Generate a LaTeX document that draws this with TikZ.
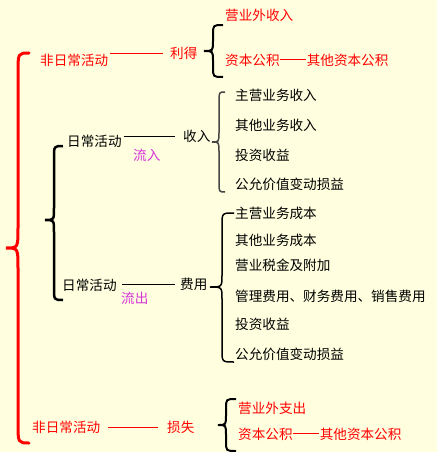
\documentclass[tikz,border=0pt]{standalone}
\usepackage{fontspec}
\setmainfont{Noto Sans CJK SC}
\definecolor{bg}{RGB}{255,255,224}
\definecolor{mag}{RGB}{214,51,214}
\definecolor{br2}{RGB}{70,70,70}
\newcommand{\bracep}[7]{% xe, yt, xv, xt, ym, yb, r
  (#1,#2) .. controls (#3,#2) .. (#3,#2+#7) -- (#3,#5-#7) .. controls (#3,#5) .. (#4,#5)
  .. controls (#3,#5) .. (#3,#5+#7) -- (#3,#6-#7) .. controls (#3,#6) .. (#1,#6)}
\newcommand{\dd}{\makebox[2em]{\rule[0.36em]{1.95em}{0.07em}}}
\begin{document}
\begin{tikzpicture}[x=1pt,y=-1pt,
  lbl/.style={anchor=west,inner sep=0pt,font=\fontsize{13.6}{16}\selectfont},
  redt/.style={lbl,text=red},
  magt/.style={lbl,text=mag},
  conn/.style={line width=0.9pt}]
\fill[bg] (0,0) rectangle (437,452);
\useasboundingbox (0,0) rectangle (437,452);
% braces
\draw[red,line width=3pt,line cap=round] \bracep{29}{53}{18}{6}{248}{443}{20};
\draw[black,line width=2pt] \bracep{223}{25}{213}{204}{51}{77}{10};
\draw[br2,line width=1.5pt] \bracep{225}{92}{219}{212}{142}{192}{10};
\draw[black,line width=2.5pt] \bracep{63}{146}{54}{45}{220}{300}{12};
\draw[black,line width=1.5pt] \bracep{234}{213}{222}{210}{287}{362}{12};
\draw[black,line width=2pt] \bracep{236}{399}{226}{218}{425}{451}{10};
% texts
\node[redt] (nr1) at (40,60) {非日常活动};
\node[redt] (lide) at (170,53) {利得};
\node[redt] (r1a) at (225,15) {营业外收入};
\node[redt] (r1b) at (225,60) {资本公积\dd 其他资本公积};
\node[lbl] (d1) at (67,141) {日常活动};
\node[lbl] (sr) at (183,136) {收入};
\node[magt] (lr) at (133,155) {流入};
\node[lbl] (i1) at (235,95) {主营业务收入};
\node[lbl] (i2) at (235,125) {其他业务收入};
\node[lbl] (i3) at (235,155) {投资收益};
\node[lbl] (i4) at (235,184) {公允价值变动损益};
\node[lbl] (d2) at (62,285) {日常活动};
\node[lbl] (fy) at (180,284) {费用};
\node[magt] (lc) at (121,298) {流出};
\node[lbl] (e1) at (235,213) {主营业务成本};
\node[lbl] (e2) at (235,240) {其他业务成本};
\node[lbl] (e3) at (235,265) {营业税金及附加};
\node[lbl] (e4) at (235,296) {管理费用、财务费用、销售费用};
\node[lbl] (e5) at (235,324) {投资收益};
\node[lbl] (e6) at (235,354) {公允价值变动损益};
\node[redt] (nr2) at (32,427) {非日常活动};
\node[redt] (ss) at (167,427) {损失};
\node[redt] (r2a) at (238,408) {营业外支出};
\node[redt] (r2b) at (238,434) {资本公积\dd 其他资本公积};
% connectors
\draw[conn,red,shorten <=2pt,shorten >=7pt] (nr1.east |- lide.west) -- (lide.west);
\draw[conn,shorten <=2pt,shorten >=8pt] (d1.east |- sr.west) -- (sr.west);
\draw[conn,shorten <=5pt,shorten >=5pt] (d2.east |- fy.west) -- (fy.west);
\draw[conn,red,shorten <=8pt,shorten >=9pt] (nr2.east) -- (ss.west);
\end{tikzpicture}
\end{document}
